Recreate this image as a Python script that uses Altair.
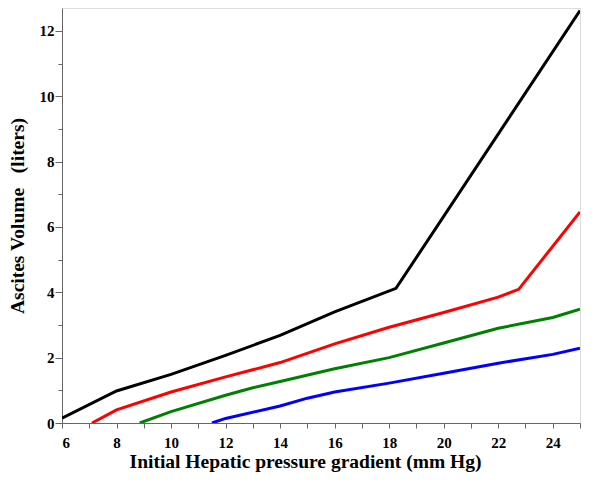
import altair as alt
import pandas as pd

black_x = [6, 8, 10, 12, 14, 16, 18.25, 25]
black_y = [0.15, 0.98, 1.49, 2.07, 2.68, 3.4, 4.12, 12.62]

red_x = [7.1, 8, 10, 12, 14, 16, 18, 20, 22, 22.75, 25]
red_y = [0.0, 0.4, 0.95, 1.41, 1.85, 2.42, 2.93, 3.38, 3.85, 4.09, 6.46]

green_x = [8.85, 10, 12, 13, 14, 16, 18, 20, 22, 24, 25]
green_y = [0.0, 0.35, 0.85, 1.08, 1.27, 1.66, 2.0, 2.45, 2.9, 3.23, 3.48]

blue_x = [11.5, 12, 14, 15, 16, 18, 20, 22, 24, 25]
blue_y = [0.0, 0.14, 0.52, 0.76, 0.95, 1.22, 1.52, 1.83, 2.1, 2.29]

series = [("black", black_x, black_y), ("red", red_x, red_y),
          ("green", green_x, green_y), ("blue", blue_x, blue_y)]
colors = {"black": "#000000", "red": "#ff0000", "green": "#008000", "blue": "#0000ff"}

rows = []
for name, xs, ys in series:
    for i, (x, y) in enumerate(zip(xs, ys)):
        rows.append({"series": name, "x": x, "y": y, "order": i})
df = pd.DataFrame(rows)

font = "Liberation Serif"

chart = alt.Chart(df).mark_line(strokeWidth=3, clip=True).encode(
    x=alt.X("x:Q", scale=alt.Scale(domain=[6, 25], nice=False, zero=False),
            axis=alt.Axis(title="Initial Hepatic pressure gradient (mm Hg)",
                          values=list(range(6, 26)),
                          labelExpr="datum.value % 2 == 0 && datum.value < 25 ? datum.label : ''",
                          grid=False, domainColor="#666666", tickColor="#666666",
                          tickSize=5, labelFont=font, labelFontWeight="bold",
                          labelFontSize=15, labelColor="black", labelPadding=7,
                          titleFont=font, titleFontWeight="bold", titleFontSize=19.5,
                          titleColor="black", titlePadding=2, titleX=243)),
    y=alt.Y("y:Q", scale=alt.Scale(domain=[0, 12.7], nice=False),
            axis=alt.Axis(title="Ascites Volume\u00a0\u00a0\u00a0(liters)",
                          values=list(range(0, 13)),
                          labelExpr="datum.value % 2 == 0 ? datum.label : ''",
                          grid=False, domainColor="#666666", tickColor="#666666",
                          tickSize={"condition": {"test": "datum.value % 2 == 0", "value": 7}, "value": 4},
                          labelFont=font, labelFontWeight="bold",
                          labelFontSize=15, labelColor="black", labelPadding=1,
                          titleFont=font, titleFontWeight="bold", titleFontSize=19.5,
                          titleColor="black", titlePadding=12)),
    color=alt.Color("series:N", scale=alt.Scale(domain=list(colors.keys()),
                                                range=list(colors.values())),
                    legend=None),
    order="order:Q",
    detail="series:N",
).properties(
    width=518, height=415,
    autosize=alt.AutoSizeParams(type="none"),
    padding={"left": 54, "top": 0, "right": 12, "bottom": 60},
).configure_view(stroke=None).configure(background="white")

chart.save("out.html", embed_options={"renderer": "svg", "actions": False})
